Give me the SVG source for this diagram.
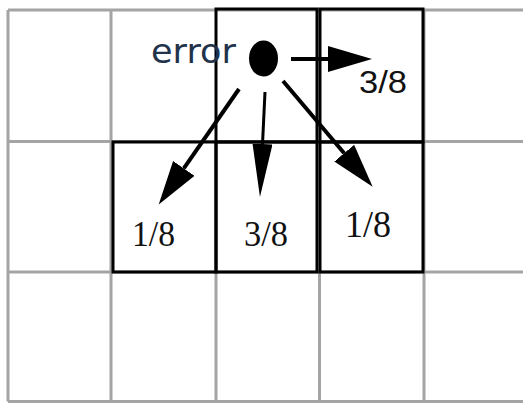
<svg xmlns="http://www.w3.org/2000/svg" width="523" height="403" viewBox="0 0 523 403">
<style>
.grid{stroke:#a4a4a4;stroke-width:3;fill:none}
.box{stroke:#000;stroke-width:3;fill:none}
.conn{stroke:#000;fill:none}
.num{font-family:"Liberation Serif","Times New Roman",serif;fill:#111}
.sans{font-family:"Liberation Sans",Arial,sans-serif;fill:#111}
.err{font-family:"DejaVu Sans","Liberation Sans",sans-serif;fill:#22324a}
</style>
<defs>
<marker id="head" markerUnits="userSpaceOnUse" markerWidth="50" markerHeight="30" refX="0" refY="13" orient="auto" viewBox="0 0 50 30"><path d="M0,0 L44,13 L0,26 z" fill="#000"/></marker>
<marker id="headNarrow" markerUnits="userSpaceOnUse" markerWidth="56" markerHeight="24" refX="0" refY="10" orient="auto" viewBox="0 0 56 24"><path d="M0,0 L53,10 L0,20 z" fill="#000"/></marker>
</defs>
<rect width="523" height="403" fill="#fff"/>
<g id="grid">
<path class="grid" d="M8,10 H523 M8,141.5 H523 M8,272 H523 M8,401.5 H523 M8,10 V401.5 M111,10 V401.5 M216,272 V401.5 M319.5,272 V401.5 M424,10 V401.5"/>
</g>
<g id="cell-current"><rect class="box" x="216" y="9" width="101" height="133"/></g>
<g id="cell-right"><rect class="box" x="320" y="9" width="103" height="133"/>
<text class="sans" x="359" y="93" font-size="32" textLength="48" lengthAdjust="spacingAndGlyphs">3/8</text></g>
<g id="cell-below-left"><rect class="box" x="113" y="142" width="103" height="130"/>
<text class="num" x="132" y="246" font-size="35" textLength="43" lengthAdjust="spacingAndGlyphs">1/8</text></g>
<g id="cell-below"><rect class="box" x="216" y="142" width="101" height="130"/>
<text class="num" x="244" y="246" font-size="35" textLength="44" lengthAdjust="spacingAndGlyphs">3/8</text></g>
<g id="cell-below-right"><rect class="box" x="320" y="142" width="103" height="130"/>
<text class="num" x="345" y="237" font-size="37" textLength="46" lengthAdjust="spacingAndGlyphs">1/8</text></g>
<g id="error">
<ellipse cx="263.5" cy="58.5" rx="14.5" ry="18" fill="#000"/>
<text class="err" x="151" y="63" font-size="34" textLength="85" lengthAdjust="spacingAndGlyphs">error</text>
</g>
<g id="connectors">
<line class="conn" stroke-width="4" x1="291" y1="59" x2="328" y2="59" marker-end="url(#head)"/>
<line class="conn" stroke-width="4" x1="239" y1="89" x2="183.8" y2="168.4" marker-end="url(#head)"/>
<line class="conn" stroke-width="3" x1="265" y1="92" x2="262.5" y2="144" marker-end="url(#headNarrow)"/>
<line class="conn" stroke-width="4" x1="283" y1="81" x2="344.2" y2="153.2" marker-end="url(#head)"/>
</g>
</svg>
